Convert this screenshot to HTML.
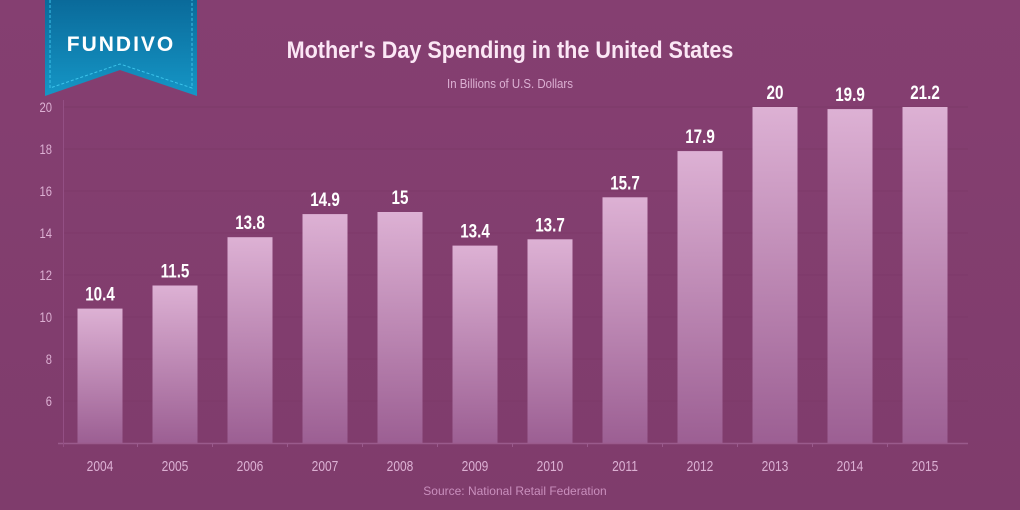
<!DOCTYPE html>
<html><head><meta charset="utf-8"><style>
body{margin:0;width:1020px;height:510px;overflow:hidden;background:#833f70;}
svg{display:block;font-family:"Liberation Sans",sans-serif;}
</style></head><body>
<svg id="chart" width="1020" height="510">
<defs>
<linearGradient id="bg" x1="0" y1="0" x2="0" y2="1"><stop offset="0" stop-color="#853f71"/><stop offset="1" stop-color="#7f3c6c"/></linearGradient>
<linearGradient id="bar" x1="0" y1="0" x2="0" y2="1"><stop offset="0" stop-color="#ddb1d4"/><stop offset="1" stop-color="#9c5f93"/></linearGradient>
<linearGradient id="rib" x1="0" y1="0" x2="0" y2="1"><stop offset="0" stop-color="#0a6a9a"/><stop offset="1" stop-color="#1596c6"/></linearGradient>
</defs>
<rect width="1020" height="510" fill="url(#bg)"/>
<g>
<polygon points="45,0 197,0 197,96 120,70 45,96" fill="url(#rib)"/>
<polyline points="50,0 50,88 120,64 192,88 192,0" fill="none" stroke="#3cc3ea" stroke-dasharray="3,2" stroke-width="1"/>
<text x="121" y="51" text-anchor="middle" fill="#fff" font-weight="bold" font-size="21" letter-spacing="2" data-k="1">FUNDIVO</text>
</g>
<text x="510" y="58" text-anchor="middle" fill="#fbe7f5" font-weight="bold" font-size="24" data-k="0.9">Mother's Day Spending in the United States</text>
<text x="510" y="88" text-anchor="middle" fill="#dcb0d3" font-size="13" data-k="0.88">In Billions of U.S. Dollars</text>
<text x="515" y="495" text-anchor="middle" fill="#c98fbd" font-size="12" data-k="1">Source: National Retail Federation</text>
<g id="grid"></g><g id="bars"></g><g id="axes"></g>
</svg>
<script>
const categories=["2004","2005","2006","2007","2008","2009","2010","2011","2012","2013","2014","2015"];
const values=[10.4,11.5,13.8,14.9,15,13.4,13.7,15.7,17.9,20,19.9,21.2];
const valueLabels=["10.4","11.5","13.8","14.9","15","13.4","13.7","15.7","17.9","20","19.9","21.2"];
const yTicks=[6,8,10,12,14,16,18,20];
const NS="http://www.w3.org/2000/svg";
const yMin=4,yMax=20,y0=443,y1=107;
function y(v){v=Math.min(v,yMax);return y0-(v-yMin)/(yMax-yMin)*(y0-y1);}
function x(i){return 100+i*75;}
function mk(t,a,p){const e=document.createElementNS(NS,t);for(const k in a)e.setAttribute(k,a[k]);p.appendChild(e);return e;}
const grid=document.getElementById('grid'),bars=document.getElementById('bars'),axes=document.getElementById('axes');
yTicks.forEach(t=>{
 const l=mk('line',{x1:63,x2:968,y1:y(t),y2:y(t),stroke:'#7d3969','stroke-width':1},grid);
 
 
 const tx=mk('text',{x:52,y:y(t)+5,'text-anchor':'end',fill:'#dcb0d3','font-size':14},axes);
 tx.textContent=t;
 
 
});
categories.forEach((c,i)=>{
 const r=mk('rect',{x:x(i)-22.5,y:y(values[i]),width:45,height:y0-y(values[i]),fill:'url(#bar)'},bars);
 
 
 const v=mk('text',{x:x(i),y:y(values[i])-8,'text-anchor':'middle',fill:'#fff','font-weight':'bold','font-size':19},bars);
 v.textContent=valueLabels[i];
 
 
 const tx=mk('text',{x:x(i),y:471,'text-anchor':'middle',fill:'#dcb0d3','font-size':15},axes);
 tx.textContent=c;
 
 
 if(i<categories.length-1){const tk=mk('line',{x1:x(i)+37.5,x2:x(i)+37.5,y1:y0,y2:y0+4,stroke:'#9a5a8c'},axes);
 
 }
});
const xa=mk('line',{x1:58,x2:968,y1:y0+0.5,y2:y0+0.5,stroke:'#9a5a8c','stroke-width':1.5},axes);


const ya=mk('line',{x1:63.5,x2:63.5,y1:100,y2:447,stroke:'#934f84','stroke-width':1},axes);


document.querySelectorAll('svg text').forEach(t=>{
 const k=parseFloat(t.getAttribute('data-k')||'0.8');
 if(k===1)return;
 const w=t.getComputedTextLength();
 t.setAttribute('textLength',(w*k).toFixed(1));
 t.setAttribute('lengthAdjust','spacingAndGlyphs');
});
</script>
</body></html>
